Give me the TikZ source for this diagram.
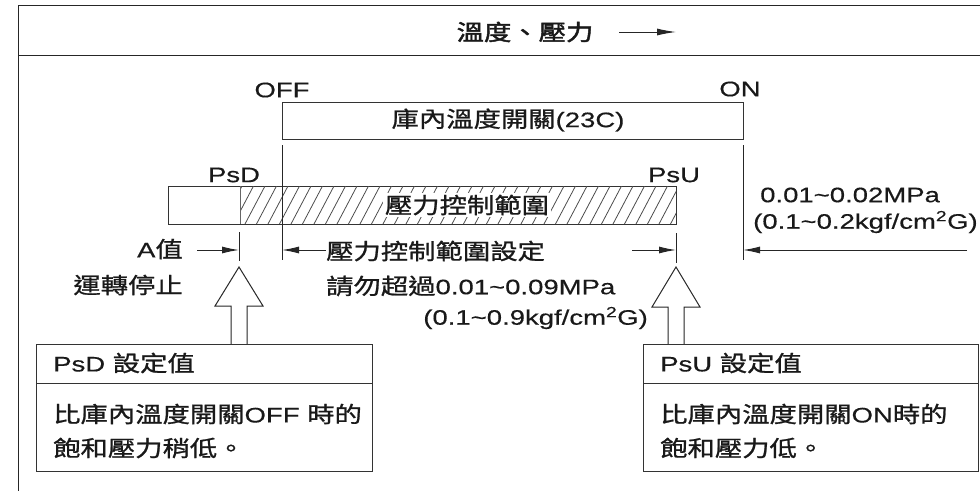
\documentclass[tikz,border=0pt]{standalone}
\usepackage{fontspec}
\setmainfont{Liberation Sans}[FakeStretch=1.31,FakeBold=0.4]
\newfontfamily\cjk{Noto Sans CJK TC}[FakeStretch=1.24,Scale=1.05,FakeBold=1]
\newfontfamily\cjkb{Noto Sans CJK TC}[FakeStretch=1.24,Scale=1.05,FakeBold=2]
\newcommand\zh[1]{{\cjk #1}}
\usetikzlibrary{arrows.meta}
\begin{document}
\begin{tikzpicture}[x=1pt,y=-1pt,
  ln/.style={draw=black!85,line width=1pt},
  txt/.style={font=\fontsize{21}{25}\selectfont,inner sep=0pt,text=black!90},
  dimarrow/.style={ln,-{Latex[length=17pt,width=7pt]}},
  hollow/.style={draw=black!85,fill=white,line width=1pt,line join=miter},
  hatchln/.style={draw=black!70,line width=0.8pt},
  boxst/.style={draw=black!80,line width=1pt}]
\useasboundingbox (0,0) rectangle (980,490);
\clip (0,0) rectangle (980,490);
% outer frame and header
\draw[ln] (18,495) -- (18,5) -- (990,5);
\draw[ln] (18,55) -- (990,55);
\node[txt] (title) at (525,32) {{\cjkb 溫度、壓力}};
\coordinate (ta) at (619,32);
\coordinate (tb) at (676,32);
\draw[ln,-{Latex[length=19pt,width=7pt]}] (ta) -- (tb);
% OFF / ON labels and temperature switch box
\node[txt] (off) at (282,90) {OFF};
\node[txt] (on) at (740,89) {ON};
\draw[boxst] (282,102) rectangle (743,139);
\node[txt] (sw) at (508,120) {\zh{庫內溫度開關}(23C)};
% pressure bar
\draw[boxst] (168,186) rectangle (676,224);
\begin{scope}
\clip (240,186) rectangle (676,224);
\foreach \i in {0,...,40} {
  \draw[hatchln] ({240+\i*11.5-18},224) -- ({240+\i*11.5+2},186);
}
\end{scope}
\draw[draw=black!60,line width=0.7pt] (240,186) -- (240,224);
\node[txt,fill=white,inner sep=1.5pt] (range) at (467,205) {\zh{壓力控制範圍}};
\node[txt] (psd) at (234,175) {PsD};
\node[txt] (psu) at (674,175) {PsU};
% tick lines
\coordinate (offT) at (282,145);
\coordinate (offB) at (282,260);
\coordinate (onT) at (743,145);
\coordinate (onB) at (743,260);
\coordinate (psdT) at (239,232);
\coordinate (psdB) at (239,261);
\coordinate (psuT) at (676,233);
\coordinate (psuB) at (676,263);
\draw[ln] (offT) -- (offB);
\draw[ln] (onT) -- (onB);
\draw[ln] (psdT) -- (psdB);
\draw[ln] (psuT) -- (psuB);
% dimension line
\coordinate (dA) at (197,250);
\coordinate (dPsD) at (239,250);
\coordinate (dOFF) at (282,250);
\coordinate (dR) at (632,250);
\coordinate (dPsU) at (676,250);
\coordinate (dON) at (743,250);
\coordinate (dE) at (967,250);
\node[txt,anchor=east] (aval) at (183,249) {A\zh{值}};
\node[txt,anchor=east] (stop) at (183,285) {\zh{運轉停止}};
\node[txt,anchor=west] (set1) at (326,251) {\zh{壓力控制範圍設定}};
\node[txt,anchor=west] (set2) at (326,286) {\zh{請勿超過}0.01\textasciitilde 0.09MPa};
\node[txt,anchor=east] (set3) at (648,318) {(0.1\textasciitilde 0.9kgf/cm\textsuperscript{2}G)};
\node[txt,anchor=west] (dif1) at (760,195) {0.01\textasciitilde 0.02MPa};
\node[txt,anchor=west] (dif2) at (753,222) {(0.1\textasciitilde 0.2kgf/cm\textsuperscript{2}G)};
\draw[dimarrow] (dA) -- (dPsD);
\draw[dimarrow] (set1.west |- dOFF) -- (dOFF);
\draw[dimarrow] (dR) -- (dPsU);
\draw[dimarrow] (dE) -- (dON);
% hollow arrows
\coordinate (hl) at (239,267);
\coordinate (hr) at (676,267);
\draw[hollow] (hl) -- ++(24,39) -- ++(-16,0) -- ++(0,40) -- ++(-16,0) -- ++(0,-40) -- ++(-16,0) -- cycle;
\draw[hollow] (hr) -- ++(24,40) -- ++(-16,0) -- ++(0,39) -- ++(-16,0) -- ++(0,-39) -- ++(-16,0) -- cycle;
% PsD box
\draw[boxst,fill=white] (36,344) rectangle (372,471);
\draw[boxst] (36,383) -- (372,383);
\node[txt,anchor=west] (psdh) at (53,363) {PsD \zh{設定值}};
\node[txt,anchor=west] (psd1) at (53,414) {\zh{比庫內溫度開關}OFF \zh{時的}};
\node[txt,anchor=west] (psd2) at (53,448) {\zh{飽和壓力稍低。}};
% PsU box
\draw[boxst,fill=white] (643,344) rectangle (978,471);
\draw[boxst] (643,383) -- (978,383);
\node[txt,anchor=west] (psuh) at (660,363) {PsU \zh{設定值}};
\node[txt,anchor=west] (psu1) at (660,414) {\zh{比庫內溫度開關}ON\zh{時的}};
\node[txt,anchor=west] (psu2) at (660,448) {\zh{飽和壓力低。}};
\end{tikzpicture}
\end{document}
